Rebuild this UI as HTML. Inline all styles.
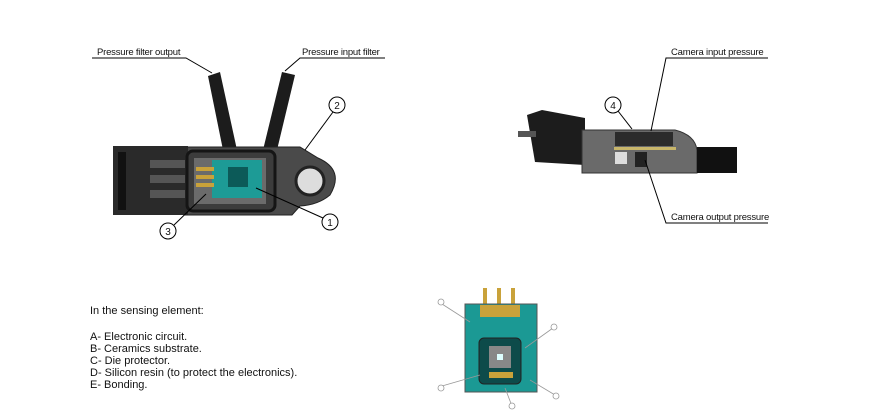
<!DOCTYPE html>
<html><head><style>
body{margin:0;background:#fff;}
svg{display:block}
text{font-family:"Liberation Sans",sans-serif;fill:#111}
.lb{font-size:9.5px;letter-spacing:-0.2px}
</style></head><body>
<svg width="869" height="418" viewBox="0 0 869 418" xmlns="http://www.w3.org/2000/svg">
<g>
<path d="M208 76 L220 72 L237 150 L223 150 Z" fill="#1c1c1c"/>
<path d="M282 72 L295 75 L277 150 L263 150 Z" fill="#1c1c1c"/>
<path d="M185 147 L300 147 L318 158 Q345 170 330 195 Q318 205 300 206 L292 215 L185 215 Z" fill="#4a4a4a" stroke="#222"/>
<circle cx="310" cy="181" r="14" fill="#ddd" stroke="#222" stroke-width="3"/>
<rect x="113" y="146" width="75" height="69" fill="#2a2a2a"/>
<rect x="118" y="152" width="8" height="58" fill="#111"/>
<rect x="150" y="160" width="35" height="8" fill="#555"/>
<rect x="150" y="175" width="35" height="8" fill="#555"/>
<rect x="150" y="190" width="35" height="8" fill="#555"/>
<rect x="187" y="151" width="88" height="60" rx="6" fill="#3c3c3c" stroke="#151515" stroke-width="3"/>
<rect x="194" y="158" width="72" height="46" fill="#6b6b6b"/>
<rect x="212" y="160" width="50" height="38" fill="#1d9b96"/>
<rect x="228" y="167" width="20" height="20" fill="#0c5a58"/>
<rect x="196" y="167" width="18" height="4" fill="#c9a23a"/>
<rect x="196" y="175" width="18" height="4" fill="#c9a23a"/>
<rect x="196" y="183" width="18" height="4" fill="#c9a23a"/>
</g>
<g fill="none" stroke="#000" stroke-width="1">
<polyline points="92,58 186,58 212,73"/>
<polyline points="385,58 300,58 285,71"/>
<line x1="333" y1="112" x2="305" y2="150"/>
<line x1="323" y1="218" x2="256" y2="188"/>
<line x1="174" y1="225" x2="206" y2="194"/>
<circle cx="337" cy="105" r="8" fill="#fff"/>
<circle cx="330" cy="222" r="8" fill="#fff"/>
<circle cx="168" cy="231" r="8" fill="#fff"/>
</g>
<g font-size="10" text-anchor="middle">
<text x="337" y="109">2</text><text x="330" y="226">1</text><text x="168" y="235">3</text>
</g>
<text x="97" y="55" class="lb">Pressure filter output</text>
<text x="302" y="55" class="lb">Pressure input filter</text>
<g>
<path d="M527 115 L542 110 L585 118 L585 165 L535 162 Z" fill="#1c1c1c"/>
<rect x="518" y="131" width="18" height="6" fill="#555"/>
<path d="M582 130 L675 130 Q695 135 697 150 L697 173 L582 173 Z" fill="#6a6a6a" stroke="#333"/>
<rect x="697" y="147" width="40" height="26" fill="#111"/>
<rect x="615" y="132" width="58" height="14" fill="#2b2b2b"/>
<rect x="614" y="147" width="62" height="3" fill="#c8b66a"/>
<rect x="615" y="152" width="12" height="12" fill="#ddd"/>
<rect x="635" y="152" width="12" height="15" fill="#222"/>
</g>
<g fill="none" stroke="#000" stroke-width="1">
<polyline points="768,58 666,58 651,131"/>
<polyline points="768,223 666,223 645,160"/>
<line x1="618" y1="111" x2="632" y2="129"/>
<circle cx="613" cy="105" r="8" fill="#fff"/>
</g>
<text x="613" y="109" font-size="10" text-anchor="middle">4</text>
<text x="671" y="55" class="lb">Camera input pressure</text>
<text x="671" y="220" class="lb">Camera output pressure</text>
<g font-size="11">
<text x="90" y="314">In the sensing element:</text>
<text x="90" y="340">A- Electronic circuit.</text>
<text x="90" y="352">B- Ceramics substrate.</text>
<text x="90" y="364">C- Die protector.</text>
<text x="90" y="376">D- Silicon resin (to protect the electronics).</text>
<text x="90" y="388">E- Bonding.</text>
</g>
<g>
<rect x="483" y="288" width="4" height="18" fill="#c9a23a"/>
<rect x="497" y="288" width="4" height="18" fill="#c9a23a"/>
<rect x="511" y="288" width="4" height="18" fill="#c9a23a"/>
<rect x="465" y="304" width="72" height="88" fill="#1b9994" stroke="#555"/>
<rect x="480" y="305" width="40" height="12" fill="#c9a23a"/>
<rect x="479" y="338" width="42" height="46" rx="5" fill="#0d4b4a" stroke="#222"/>
<rect x="489" y="346" width="22" height="22" fill="#888"/>
<rect x="497" y="354" width="6" height="6" fill="#dff"/>
<rect x="489" y="372" width="24" height="6" fill="#c9a23a"/>
</g>
<g fill="none" stroke="#999" stroke-width="0.8">
<line x1="442" y1="304" x2="470" y2="322"/>
<line x1="553" y1="328" x2="525" y2="348"/>
<line x1="442" y1="386" x2="480" y2="375"/>
<line x1="555" y1="395" x2="530" y2="380"/>
<line x1="512" y1="406" x2="505" y2="388"/>
<circle cx="441" cy="302" r="3" fill="#fff"/>
<circle cx="554" cy="327" r="3" fill="#fff"/>
<circle cx="441" cy="388" r="3" fill="#fff"/>
<circle cx="556" cy="396" r="3" fill="#fff"/>
<circle cx="512" cy="406" r="3" fill="#fff"/>
</g>
</svg>
</body></html>
